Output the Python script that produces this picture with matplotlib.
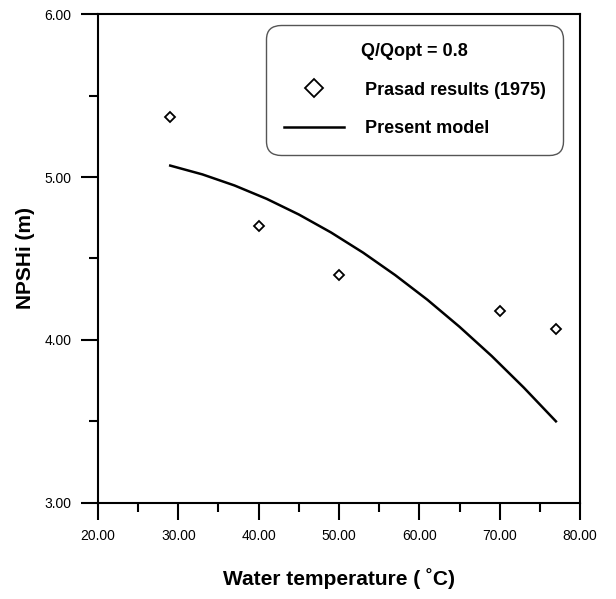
import matplotlib
matplotlib.use('Agg')
import matplotlib.pyplot as plt

plt.rcParams['font.family'] = 'Liberation Sans'

# Prasad results (1975)
prasad_temp = [29, 40, 50, 70, 77]
prasad_npshi = [5.37, 4.70, 4.40, 4.18, 4.07]

# present model curve
model_temp = [29, 33, 37, 41, 45, 49, 53, 57, 61, 65, 69, 73, 77]
model_npshi = [5.07, 5.016, 4.948, 4.866, 4.770, 4.660, 4.536, 4.398, 4.247,
               4.081, 3.902, 3.708, 3.501]

x_ticks = [20, 30, 40, 50, 60, 70, 80]
y_ticks = [3, 4, 5, 6]

fig = plt.figure(figsize=(6.16, 5.99), dpi=100)
ax = fig.add_axes([0.159, 0.1603, 0.7826, 0.8163])

ax.plot(prasad_temp, prasad_npshi, linestyle='none', marker='D', markersize=5.3,
        markerfacecolor='white', markeredgecolor='black', markeredgewidth=1.3,
        label='Prasad results (1975)')
ax.plot(model_temp, model_npshi, color='black', linewidth=1.8, label='Present model')

ax.set_xlim(20, 80)
ax.set_ylim(3, 6)
ax.set_xticks(x_ticks)
ax.set_xticklabels(['%.2f' % v for v in x_ticks])
ax.set_yticks(y_ticks)
ax.set_yticklabels(['%.2f' % v for v in y_ticks])
ax.set_xticks([25, 35, 45, 55, 65, 75], minor=True)
ax.set_yticks([3.5, 4.5, 5.5], minor=True)
ax.tick_params(which='major', direction='out', length=12, width=1.5, labelsize=10, pad=7)
ax.tick_params(which='minor', direction='out', length=6.5, width=1.5)
for s in ax.spines.values():
    s.set_linewidth(1.5)

ax.set_xlabel('Water temperature ( \u02daC)', fontsize=15, fontweight='bold', labelpad=18)
ax.set_ylabel('NPSHi (m)', fontsize=15, fontweight='bold', labelpad=7)

leg = ax.legend(loc='upper left', bbox_to_anchor=(0.349, 0.9775, 0.616, 0), mode='expand',
                borderaxespad=0, title='Q/Qopt = 0.8', prop={'size': 13, 'weight': 'bold'},
                title_fontproperties={'size': 13, 'weight': 'bold'}, markerscale=1.8,
                handlelength=3.3, handletextpad=1.2, labelspacing=1.2, borderpad=1.0,
                fancybox=True, framealpha=1, edgecolor='#555555')
leg.get_frame().set_linewidth(1.0)
leg.get_frame().set_boxstyle('round', pad=0, rounding_size=0.8)

fig.savefig('out.png', dpi=100)
